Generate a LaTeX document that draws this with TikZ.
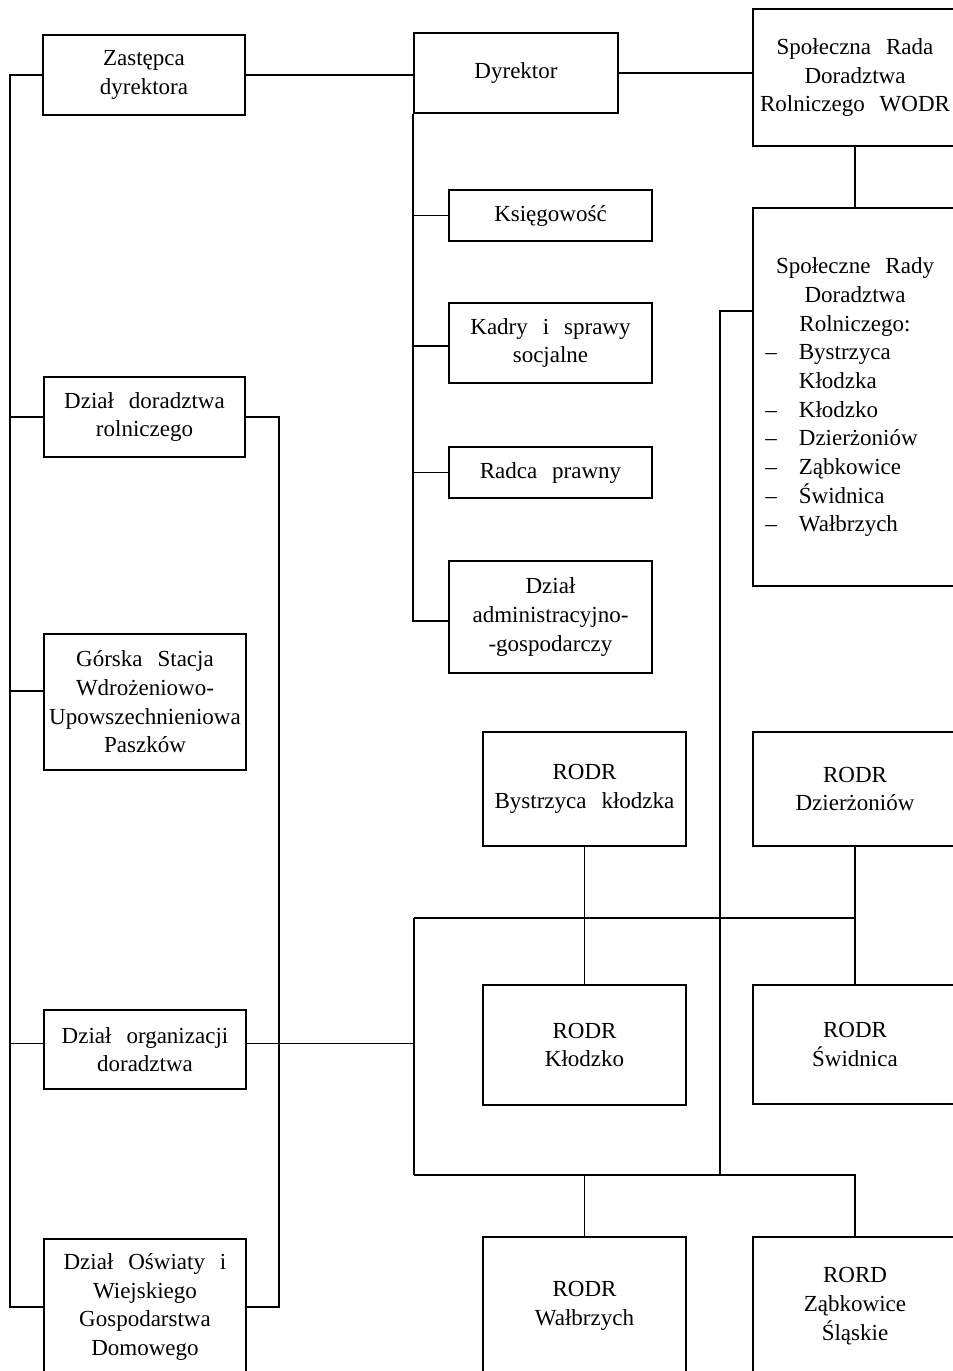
\documentclass[tikz,border=0pt]{standalone}
\usepackage{fontspec}
\setmainfont{Liberation Serif}[WordSpace=2.6]
\begin{document}
\begin{tikzpicture}[x=0.5pt,y=-0.5pt,
  box/.style={draw, line width=0.8pt, inner sep=2pt, align=center, font=\fontsize{11.5}{14.35}\selectfont},
  wire/.style={line width=0.8pt},
  lbl/.style={inner sep=0pt, font=\fontsize{11.5}{14.35}\selectfont}]
\clip (0,0) rectangle (953,1371);
% top row
\node[box, minimum width=101pt, minimum height=40pt] (zast) at (144,75) {Zastępca\\dyrektora};
\node[box, minimum width=102pt, minimum height=40pt] (dyr) at (516,73) {Dyrektor};
\node[box, minimum width=102pt, minimum height=68.5pt] (sr1) at (855,77.5) {Społeczna Rada\\Doradztwa\\Rolniczego WODR};
\node[box, minimum width=102pt, minimum height=189pt] (sr2) at (855,397) {};
\node[lbl, align=center] (sr2t) at (855,297) {Społeczne Rady\\Doradztwa\\Rolniczego:};
\node[lbl, anchor=west] (sr2l) at (765,440) {\begin{tabular}{@{}l@{\hspace{11pt}}l@{}}
– & Bystrzyca\\
  & Kłodzka\\
– & Kłodzko\\
– & Dzierżoniów\\
– & Ząbkowice\\
– & Świdnica\\
– & Wałbrzych
\end{tabular}};
% director's staff
\node[box, minimum width=101.5pt, minimum height=25.5pt] (ksieg) at (550.5,215.5) {Księgowość};
\node[box, minimum width=101.5pt, minimum height=40pt] (kadry) at (550.5,343) {Kadry i sprawy\\socjalne};
\node[box, minimum width=101.5pt, minimum height=25.5pt] (radca) at (550.5,472.5) {Radca prawny};
\node[box, minimum width=101.5pt, minimum height=56pt] (admin) at (550.5,617) {Dział\\administracyjno-\\-gospodarczy};
% left column
\node[box, minimum width=100.5pt, minimum height=40pt] (ddr) at (144.5,417) {Dział doradztwa\\rolniczego};
\node[box, minimum width=101pt, minimum height=68pt] (gorska) at (145,702) {Górska Stacja\\Wdrożeniowo-\\Upowszechnieniowa\\Paszków};
\node[box, minimum width=101pt, minimum height=39.5pt] (dorg) at (145,1049.5) {Dział organizacji\\doradztwa};
\node[box, minimum width=101pt, minimum height=68pt] (dosw) at (145,1307) {Dział Oświaty i\\Wiejskiego\\Gospodarstwa\\Domowego};
% RODR
\node[box, minimum width=101.5pt, minimum height=57pt] (rbys) at (584.5,789) {RODR\\Bystrzyca kłodzka};
\node[box, minimum width=102pt, minimum height=57pt] (rdzi) at (855,789) {RODR\\Dzierżoniów};
\node[box, minimum width=101.5pt, minimum height=60pt] (rklo) at (584.5,1045) {RODR\\Kłodzko};
\node[box, minimum width=102pt, minimum height=59.5pt] (rswi) at (855,1044.5) {RODR\\Świdnica};
\node[box, minimum width=101.5pt, minimum height=69pt] (rwal) at (584.5,1306) {RODR\\Wałbrzych};
\node[box, minimum width=102pt, minimum height=69pt] (rzab) at (855,1306) {RORD\\Ząbkowice\\Śląskie};
% coordinates
\coordinate (L) at (10,0);
\coordinate (R) at (279,0);
\coordinate (B1) at (414,918);
\coordinate (B2) at (414,1175);
\coordinate (V) at (720,311);
% connectors
\draw[wire] (zast.west) -- (zast.west -| L) |- (dosw.west);
\draw[wire] (ddr.west) -- (ddr.west -| L);
\draw[wire] ([yshift=5.5pt]gorska.west) -- ([yshift=5.5pt]gorska.west -| L);
\draw[wire] ([yshift=3pt]dorg.west) -- ([yshift=3pt]dorg.west -| L);
\draw[wire] (ddr.east) -- (ddr.east -| R) |- (dosw.east);
\draw[wire] ([yshift=3pt]dorg.east) -- ([yshift=3pt]dorg.east -| B1);
\draw[wire] (zast.east) -- (zast.east -| dyr.west);
\draw[wire] (dyr.east) -- (dyr.east -| sr1.west);
\draw[wire] (sr1.south) -- (sr2.north);
\draw[wire] (dyr.south west) |- ([yshift=-2pt]admin.west);
\draw[wire] (ksieg.west) -- (ksieg.west -| dyr.west);
\draw[wire] ([yshift=-1.5pt]kadry.west) -- ([yshift=-1.5pt]kadry.west -| dyr.west);
\draw[wire] (radca.west) -- (radca.west -| dyr.west);
\draw[wire] (B1) -- (B2);
\draw[wire] (B1) -- (B1 -| rdzi.south);
\draw[wire] (rbys.south) -- (rklo.north);
\draw[wire] (rdzi.south) -- (rswi.north);
\draw[wire] (B2) -| (rzab.north);
\draw[wire] (rwal.north) -- (rwal.north |- B2);
\draw[wire] (sr2.west |- V) -- (V) -- (V |- B2);
\end{tikzpicture}
\end{document}
